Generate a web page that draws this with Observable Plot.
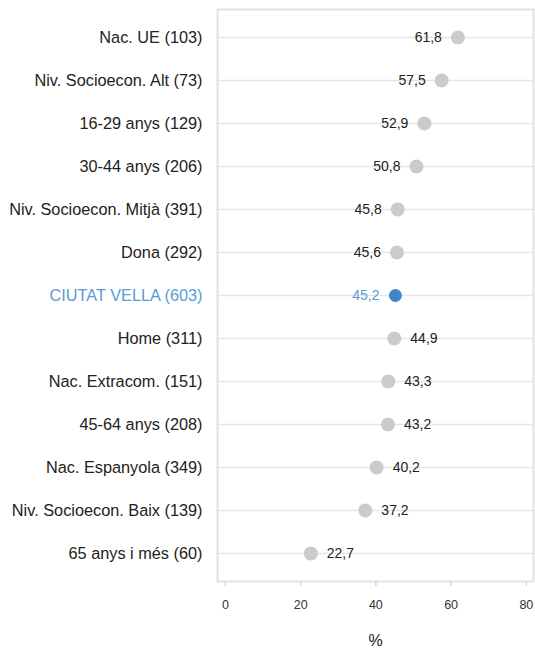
<!DOCTYPE html>
<html>
<head>
<meta charset="utf-8">
<script src="https://cdn.jsdelivr.net/npm/d3@7"></script>
<script src="https://cdn.jsdelivr.net/npm/@observablehq/plot@0.6"></script>
<style>
  html, body { margin: 0; padding: 0; background: #ffffff; }
  #chart { width: 535px; height: 654px; }
</style>
</head>
<body>
<div id="chart"></div>
<script>
const categories = [
  "Nac. UE (103)",
  "Niv. Socioecon. Alt (73)",
  "16-29 anys (129)",
  "30-44 anys (206)",
  "Niv. Socioecon. Mitjà (391)",
  "Dona (292)",
  "CIUTAT VELLA (603)",
  "Home (311)",
  "Nac. Extracom. (151)",
  "45-64 anys (208)",
  "Nac. Espanyola (349)",
  "Niv. Socioecon. Baix (139)",
  "65 anys i més (60)"
];
const values = [61.8, 57.5, 52.9, 50.8, 45.8, 45.6, 45.2, 44.9, 43.3, 43.2, 40.2, 37.2, 22.7];
const highlight = "CIUTAT VELLA (603)";
const xTicks = [0, 20, 40, 60, 80];
const axisTitle = "%";

const data = categories.map((c, i) => ({cat: c, value: values[i]}));
const refValue = values[categories.indexOf(highlight)];
const fmt = v => v.toFixed(1).replace(".", ",");
const isHi = d => d.cat === highlight;

const blueDot = "#3f88c5";
const blueText = "#5b9bd2";
const grayDot = "#cbcbcb";

const chart = Plot.plot({
  width: 535,
  height: 654,
  marginLeft: 217,
  marginRight: 2,
  marginTop: 9,
  marginBottom: 73,
  style: {fontFamily: "'Liberation Sans', Arial, Helvetica, sans-serif", background: "#ffffff"},
  x: {domain: [-2.1, 81.9]},
  y: {type: "point", domain: categories, padding: 0.6},
  marks: [
    Plot.ruleY(data, {y: "cat", stroke: "#e6e6e6", strokeWidth: 1.6}),
    Plot.frame({stroke: "#e2e2e2", strokeWidth: 2}),
    Plot.axisX({ticks: xTicks, tickSize: 5, tickPadding: 14, stroke: "#d6d6d6", strokeWidth: 1.5, fill: "#333333", fontSize: 12.5, label: null, tickFormat: d => String(d)}),
    Plot.axisY({ticks: [], label: null}),
    Plot.text(data, {y: "cat", text: "cat", frameAnchor: "left", textAnchor: "end", dx: -15, fontSize: 16.3, fill: d => isHi(d) ? blueText : "#222222"}),
    Plot.dot(data.filter(d => !isHi(d)), {x: "value", y: "cat", r: 7, fill: grayDot, stroke: "none"}),
    Plot.dot(data.filter(isHi), {x: "value", y: "cat", r: 6.5, fill: blueDot, stroke: "none"}),
    Plot.text(data.filter(d => d.value >= refValue), {x: "value", y: "cat", text: d => fmt(d.value), textAnchor: "end", dx: -16, fontSize: 14, fill: d => isHi(d) ? blueText : "#222222"}),
    Plot.text(data.filter(d => d.value < refValue), {x: "value", y: "cat", text: d => fmt(d.value), textAnchor: "start", dx: 16, fontSize: 14, fill: "#222222"}),
    Plot.text([axisTitle], {text: d => d, frameAnchor: "bottom", dy: 64, fontSize: 16, fill: "#222222"})
  ]
});
document.getElementById("chart").appendChild(chart);
</script>
</body>
</html>
